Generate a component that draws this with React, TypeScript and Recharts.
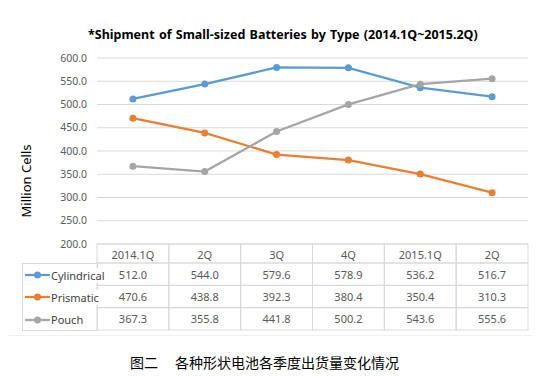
import React from 'react'
import { LineChart, Line, XAxis, YAxis, CartesianGrid, Legend } from 'recharts'

// quarters along x, values in million cells
const quarters = ['2014.1Q', '2Q', '3Q', '4Q', '2015.1Q', '2Q']
const cylindrical = [512.0, 544.0, 579.6, 578.9, 536.2, 516.7]
const prismatic = [470.6, 438.8, 392.3, 380.4, 350.4, 310.3]
const pouch = [367.3, 355.8, 441.8, 500.2, 543.6, 555.6]
const yTicks = [200, 250, 300, 350, 400, 450, 500, 550, 600]

const series = [
  { key: 'cylindrical', name: 'Cylindrical', color: '#5B9BD5', values: cylindrical },
  { key: 'prismatic', name: 'Prismatic', color: '#ED7D31', values: prismatic },
  { key: 'pouch', name: 'Pouch', color: '#A5A5A5', values: pouch },
]

const data = quarters.map((q, i) => {
  const row: Record<string, number | string> = { idx: i, quarter: q }
  series.forEach((s) => {
    row[s.key] = s.values[i]
  })
  return row
})

const W = 539
const H = 377
const FONT = '"Noto Sans", "Open Sans", sans-serif'
const GRID = '#d9d9d9'
const TEXT = '#595959'

const plotLeft = 97
const plotRight = 528
const colW = (plotRight - plotLeft) / quarters.length
const headerH = 19
const rowH = 22.33

// data table drawn under the plot, one column per x tick
const TableTick = (props: any) => {
  const { x, y, payload } = props
  const i = payload.value as number
  const left = x - colW / 2
  return (
    <g>
      <rect x={left} y={y} width={colW} height={headerH} fill="none" stroke={GRID} />
      <text
        x={x}
        y={y + headerH / 2 + 1}
        textAnchor="middle"
        dominantBaseline="central"
        fill={TEXT}
        fontSize={11}
        fontFamily={FONT}
      >
        {quarters[i]}
      </text>
      {series.map((s, r) => {
        const top = y + headerH + r * rowH
        return (
          <g key={s.key}>
            <rect x={left} y={top} width={colW} height={rowH} fill="none" stroke={GRID} />
            <text
              x={x}
              y={top + rowH / 2}
              textAnchor="middle"
              dominantBaseline="central"
              fill={TEXT}
              fontSize={11}
              fontFamily={FONT}
            >
              {s.values[i].toFixed(1)}
            </text>
          </g>
        )
      })}
    </g>
  )
}

const TableLegend = (props: any) => {
  const items = [...(props.payload || [])].sort(
    (a: any, b: any) =>
      series.findIndex((s) => s.name === a.value) - series.findIndex((s) => s.name === b.value)
  )
  return (
    <div
      style={{
        border: `1px solid ${GRID}`,
        boxSizing: 'border-box',
        width: '100%',
        height: '100%',
        fontFamily: FONT,
        fontSize: 11,
        color: '#404040',
      }}
    >
      {items.map((p: any) => (
        <div
          key={p.value}
          style={{ height: rowH, display: 'flex', alignItems: 'center', whiteSpace: 'nowrap' }}
        >
          <svg width={26} height={10} style={{ marginLeft: 2, flex: 'none' }}>
            <line x1={0} y1={5} x2={25} y2={5} stroke={p.color} strokeWidth={2.25} />
            <circle cx={12.5} cy={5} r={3.5} fill={p.color} />
          </svg>
          <span style={{ background: '#fff', paddingRight: 1 }}>{p.value}</span>
        </div>
      ))}
    </div>
  )
}

export default function App() {
  return (
    <div style={{ position: 'absolute', left: 0, top: 0, width: W, height: H, background: '#fff' }}>
      <div
        style={{
          position: 'absolute',
          left: 88,
          top: 26,
          fontFamily: FONT,
          fontSize: 12.5,
          fontWeight: 'bold',
          color: '#000',
          whiteSpace: 'nowrap',
          wordSpacing: 1,
        }}
      >
        *Shipment of Small-sized Batteries by Type (2014.1Q~2015.2Q)
      </div>
      <LineChart
        width={W}
        height={H}
        data={data}
        margin={{ top: 58, right: W - plotRight, left: 0, bottom: 47 }}
      >
        <CartesianGrid vertical={false} stroke={GRID} />
        <XAxis
          dataKey="idx"
          type="category"
          axisLine={false}
          tickLine={false}
          tickSize={0}
          tickMargin={0}
          height={86}
          interval={0}
          padding={{ left: colW / 2, right: colW / 2 }}
          tick={<TableTick />}
        />
        <YAxis
          width={plotLeft}
          domain={[200, 600]}
          ticks={yTicks}
          axisLine={false}
          tickLine={false}
          tickSize={0}
          tickMargin={10}
          tickFormatter={(v: number) => v.toFixed(1)}
          tick={{ fill: TEXT, fontSize: 10.5, fontFamily: FONT }}
          label={{
            value: 'Million Cells',
            angle: -90,
            position: 'insideLeft',
            offset: 26,
            dy: 30,
            style: { fill: '#000', fontSize: 13, fontFamily: FONT, textAnchor: 'middle' },
          }}
        />
        <Legend
          layout="vertical"
          align="center"
          verticalAlign="middle"
          content={<TableLegend />}
          wrapperStyle={{ position: 'absolute', left: 22, top: 263, width: 76, height: 68 }}
        />
        {series.map((s) => (
          <Line
            key={s.key}
            dataKey={s.key}
            name={s.name}
            stroke={s.color}
            strokeWidth={2.25}
            dot={{ r: 3.5, fill: s.color, stroke: s.color, strokeWidth: 0 }}
            activeDot={false}
            isAnimationActive={false}
          />
        ))}
      </LineChart>
      <div
        style={{
          position: 'absolute',
          left: 7,
          top: 335,
          width: 525,
          borderTop: '1px solid #f0f0f0',
        }}
      />
      <div
        style={{
          position: 'absolute',
          left: 130,
          top: 352,
          fontFamily: '"Noto Sans CJK SC", sans-serif',
          fontSize: 14,
          lineHeight: '20px',
          color: '#000',
          whiteSpace: 'nowrap',
        }}
      >
        <span>图二</span>
        <span style={{ marginLeft: 17 }}>各种形状电池各季度出货量变化情况</span>
      </div>
    </div>
  )
}
